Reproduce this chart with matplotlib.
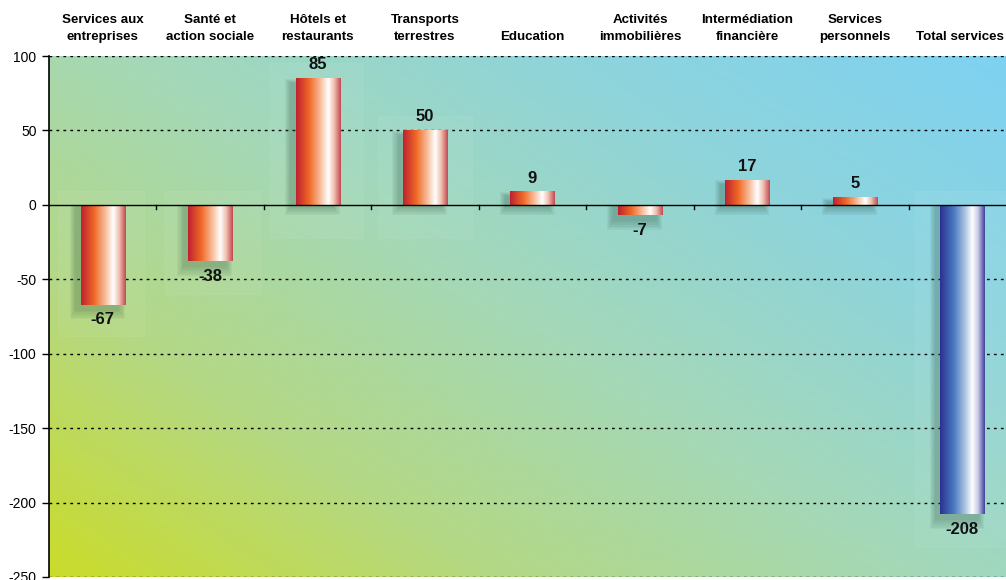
import numpy as np
import matplotlib
matplotlib.use("Agg")
import matplotlib.pyplot as plt
from matplotlib.colors import LinearSegmentedColormap
from matplotlib.patches import Rectangle

categories = ["Services aux\nentreprises", "Santé et\naction sociale", "Hôtels et\nrestaurants",
              "Transports\nterrestres", "Education", "Activités\nimmobilières",
              "Intermédiation\nfinancière", "Services\npersonnels", "Total services"]
values = [-67, -38, 85, 50, 9, -7, 17, 5, -208]
y_ticks = [100, 50, 0, -50, -100, -150, -200, -250]

plt.rcParams['font.family'] = ['Liberation Sans', 'DejaVu Sans']

fig = plt.figure(figsize=(10.06, 5.80), dpi=100)
ax = fig.add_axes([49 / 1006, 3 / 580, 967 / 1006, 521 / 580])
n = len(values)
ax.set_xlim(-0.5, n - 0.5)
ax.set_ylim(-250, 100)

# background: diagonal gradient yellow-green -> light blue
bg_cmap = LinearSegmentedColormap.from_list("bg", ["#cadc2a", "#b4d884", "#a4d8b8", "#8ed4dc", "#7ed2f2"])
gx, gy = np.meshgrid(np.linspace(0, 1, 300), np.linspace(0, 1, 200))
grad = 0.55 * gx + 0.45 * gy
ax.imshow(grad, extent=[0, 1, 0, 1], transform=ax.transAxes, cmap=bg_cmap,
          origin="lower", aspect="auto", zorder=0, interpolation="bilinear")

# dotted grid lines
for t in y_ticks:
    if t != 0:
        ax.axhline(t, color="black", lw=1.0, ls=(0, (2, 3)), zorder=1)
ax.axhline(0, color="black", lw=1.0, zorder=4)

red_cmap = LinearSegmentedColormap.from_list("red", [(0, "#c02030"), (0.3, "#f06a28"), (0.55, "#f8c0a0"),
                                                     (0.72, "#ffffff"), (0.85, "#f0c0b0"), (1, "#c04850")])
blue_cmap = LinearSegmentedColormap.from_list("blue", [(0, "#2c3090"), (0.3, "#4878c0"), (0.55, "#a8c0e0"),
                                                       (0.72, "#ffffff"), (0.85, "#c8c8e8"), (1, "#404098")])
width = 0.41
x = np.arange(n)
hgrad = np.linspace(0, 1, 256).reshape(1, -1)

# soft shadows, to the left and slightly below each bar
for i, v in enumerate(values):
    for k in range(6):
        pad = 0.01 * k
        if v >= 0:
            y0, y1 = -2 - 1.0 * k, v - 3 + 0.5 * k
        else:
            y0, y1 = v - 4 - 1.2 * k, 0
        ax.add_patch(Rectangle((x[i] - width / 2 - 0.05 - pad, y0), width + 2 * pad, y1 - y0,
                               facecolor="#1c4028", alpha=0.05, lw=0, zorder=2))

bars = ax.bar(x, values, width=width, color="none", edgecolor="none", zorder=3)
for i, (b, v) in enumerate(zip(bars, values)):
    cmap = blue_cmap if i == n - 1 else red_cmap
    x0 = b.get_x()
    im = ax.imshow(hgrad, extent=[x0, x0 + b.get_width(), min(0, v), max(0, v)],
                   cmap=cmap, aspect="auto", zorder=3, interpolation="bilinear")
    im.set_clip_path(b)

# faint label boxes
boxes = {0: (-0.42, 0.38, -88, 9), 1: (0.58, 1.46, -60, 9), 2: (1.56, 2.42, -22, 95),
         3: (2.56, 3.44, -22, 60), 8: (7.56, 8.46, -230, 9)}
for i, (a, b2, lo, hi) in boxes.items():
    ax.add_patch(Rectangle((a, lo), b2 - a, hi - lo, facecolor="white", alpha=0.05,
                           edgecolor="white", lw=0.8, zorder=2))

# value labels
for i, v in enumerate(values):
    off = 4 if v >= 0 else -5
    ax.text(x[i], v + off, str(v), ha="center", va="bottom" if v >= 0 else "top",
            fontsize=12, fontweight="bold", color="#111111", zorder=5)

# category labels at top
for i, c in enumerate(categories):
    xpos = x[i] - 0.02 if i == n - 1 else x[i]
    ax.text(xpos, 1.025, c, transform=ax.get_xaxis_transform(),
            ha="center", va="bottom", fontsize=9.6, fontweight="bold", linespacing=1.5)

# zero-line ticks at category boundaries
for b in np.arange(0.5, n - 0.5, 1.0):
    ax.plot([b, b], [0, -2.5], color="black", lw=1, zorder=4)

ax.set_xticks([])
ax.set_yticks(y_ticks)
ax.set_yticklabels([str(t) for t in y_ticks], fontsize=10)
ax.tick_params(axis="y", length=5, width=1, pad=4)
for s in ["top", "right", "bottom"]:
    ax.spines[s].set_visible(False)
ax.spines["left"].set_linewidth(1.2)

fig.savefig("out.png", dpi=100)
